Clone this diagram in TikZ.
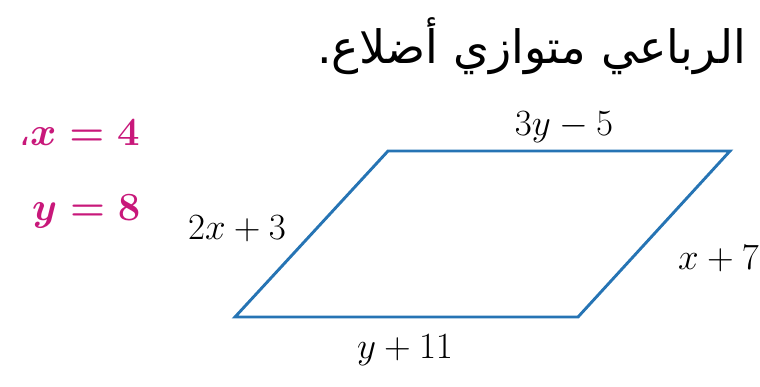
\RequirePackage{fix-cm}
\documentclass[tikz,border=0pt]{standalone}
\usepackage{fontspec}
\newfontfamily\arabicfont[Script=Arabic]{DejaVu Sans}
\TeXXeTstate=1
\definecolor{edgeblue}{RGB}{38,116,180}
\definecolor{answerpink}{RGB}{200,24,122}
\tikzset{
  sidelabel/.style={inner sep=0pt, font=\fontsize{37}{44}\selectfont},
  answer/.style={inner sep=0pt, text=answerpink, font=\fontsize{40}{46}\selectfont\boldmath},
  edge/.style={draw=edgeblue, line width=2.9pt, line join=miter}
}
\begin{document}
\begin{tikzpicture}[x=1pt,y=-1pt]
\useasboundingbox (0,0) rectangle (760,386);
% title
\node[anchor=east, inner sep=0pt, font=\fontsize{46}{52}\selectfont\arabicfont] (title) at (746,46) {\beginR الرباعي متوازي أضلاع.\endR};
% answers
\node[answer, anchor=west] (ansx) at (19,133) {{\arabicfont\fontsize{34}{40}\selectfont ،}$x=4$};
\node[answer, anchor=west] (ansy) at (32,211) {$y=8$};
% parallelogram
\coordinate (tl) at (388,151);
\coordinate (tr) at (730,151);
\coordinate (br) at (578,317);
\coordinate (bl) at (235,317);
\draw[edge] (tl) -- (tr) -- (br) -- (bl) -- cycle;
% side labels
\node[sidelabel] (top) at (564,127) {$3y-5$};
\node[sidelabel] (left) at (237,229) {$2x+3$};
\node[sidelabel, anchor=west] (right) at (678,259) {$x+7$};
\node[sidelabel] (bottom) at (405,350) {$y+11$};
\end{tikzpicture}
\end{document}
